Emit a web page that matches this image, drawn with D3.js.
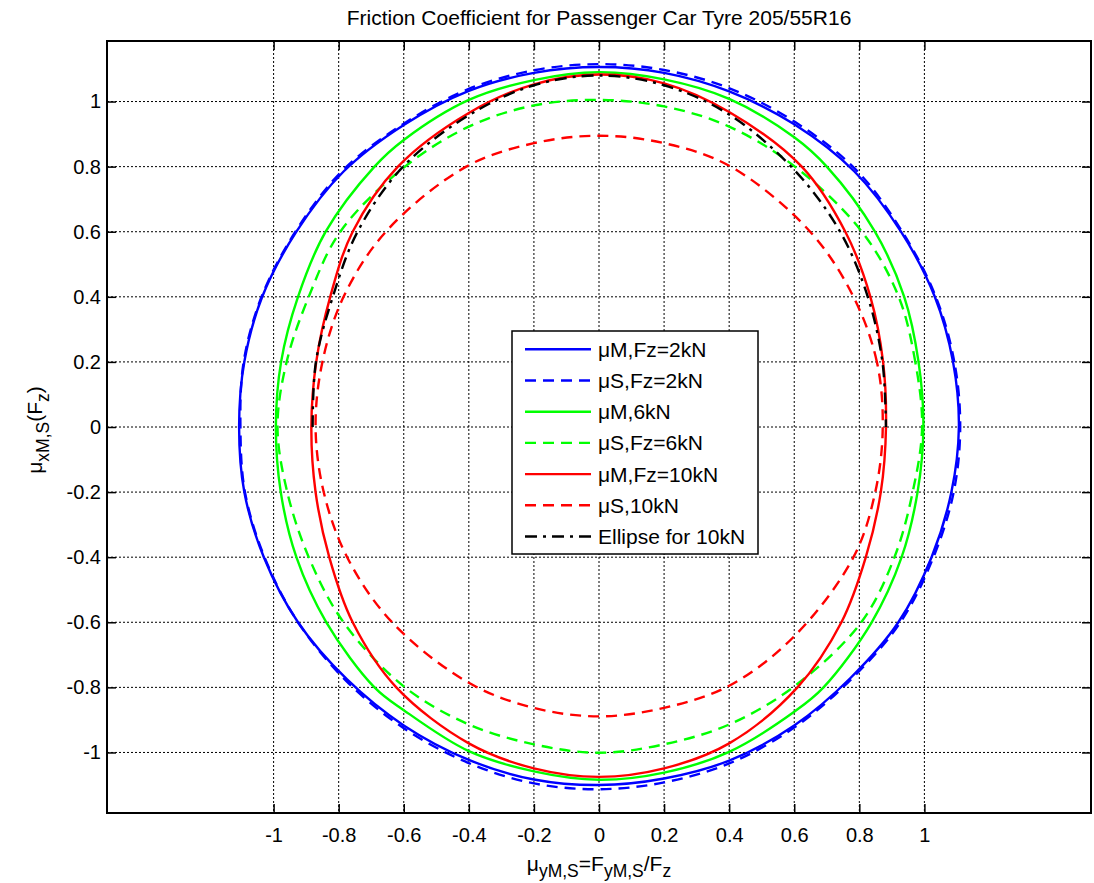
<!DOCTYPE html>
<html>
<head>
<meta charset="utf-8">
<script src="https://cdn.jsdelivr.net/npm/d3@7.9.0/dist/d3.min.js"></script>
<style>
  html, body { margin: 0; padding: 0; background: #fff; }
  svg { display: block; font-family: "Liberation Sans", Arial, Helvetica, sans-serif; }
</style>
</head>
<body>
<svg id="chart" width="1094" height="883"></svg>
<script>
// tick values and their labels
const xTicks = [-1, -0.8, -0.6, -0.4, -0.2, 0, 0.2, 0.4, 0.6, 0.8, 1];
const yTicks = [-1, -0.8, -0.6, -0.4, -0.2, 0, 0.2, 0.4, 0.6, 0.8, 1];
const tickLabels = ['-1', '-0.8', '-0.6', '-0.4', '-0.2', '0', '0.2', '0.4', '0.6', '0.8', '1'];

// friction curves, [muY, muX]
const muM2kN = [
  [1.106, 0], [1.088, 0.2], [1.032, 0.4], [0.928, 0.6], [0.785, 0.785], [0.6, 0.93], [0.4, 1.031], [0.2, 1.088],
  [0, 1.106], [-0.2, 1.088], [-0.4, 1.033], [-0.6, 0.928], [-0.785, 0.785], [-0.93, 0.6], [-1.035, 0.4], [-1.09, 0.2],
  [-1.106, 0], [-1.09, -0.2], [-1.03, -0.4], [-0.925, -0.6], [-0.775, -0.775], [-0.6, -0.917], [-0.4, -1.023], [-0.2, -1.083],
  [0, -1.1], [0.2, -1.08], [0.4, -1.025], [0.6, -0.917], [0.772, -0.772], [0.92, -0.6], [1.022, -0.4], [1.083, -0.2]
];
const muS2kN = [
  [1.11, 0], [1.092, 0.2], [1.035, 0.4], [0.932, 0.6], [0.79, 0.79], [0.604, 0.936], [0.403, 1.04], [0.2, 1.097],
  [0, 1.115], [-0.2, 1.096], [-0.402, 1.038], [-0.6, 0.932], [-0.788, 0.788], [-0.933, 0.6], [-1.037, 0.4], [-1.092, 0.2],
  [-1.102, 0], [-1.088, -0.2], [-1.028, -0.4], [-0.925, -0.6], [-0.777, -0.78], [-0.602, -0.924], [-0.402, -1.032], [-0.2, -1.095],
  [0, -1.113], [0.2, -1.092], [0.402, -1.033], [0.602, -0.922], [0.775, -0.775], [0.925, -0.602], [1.027, -0.402], [1.09, -0.2]
];
const muM6kN = [
  [0.997, 0], [0.982, 0.2], [0.938, 0.4], [0.848, 0.6], [0.7, 0.8], [0.6, 0.89], [0.4, 1.008], [0.2, 1.068],
  [0, 1.09], [-0.2, 1.066], [-0.4, 1.005], [-0.6, 0.882], [-0.69, 0.8], [-0.84, 0.6], [-0.925, 0.4], [-0.977, 0.2],
  [-0.993, 0], [-0.978, -0.2], [-0.93, -0.4], [-0.838, -0.6], [-0.69, -0.8], [-0.6, -0.87], [-0.4, -0.996], [-0.2, -1.058],
  [0, -1.084], [0.2, -1.062], [0.4, -0.998], [0.6, -0.875], [0.69, -0.8], [0.838, -0.6], [0.93, -0.4], [0.979, -0.2]
];
const muS6kN = [
  [0.993, 0], [0.972, 0.2], [0.921, 0.4], [0.808, 0.6], [0.602, 0.8], [0.4, 0.923], [0.2, 0.985],
  [0, 1.005], [-0.2, 0.988], [-0.4, 0.923], [-0.6, 0.797], [-0.795, 0.6], [-0.892, 0.4], [-0.96, 0.2],
  [-0.988, 0], [-0.958, -0.2], [-0.892, -0.4], [-0.785, -0.6], [-0.6, -0.797], [-0.4, -0.914], [-0.2, -0.975],
  [0, -1.001], [0.2, -0.975], [0.4, -0.914], [0.6, -0.797], [0.806, -0.6], [0.908, -0.4], [0.964, -0.2]
];
const muM10kN = [
  [0.882, 0], [0.873, 0.2], [0.834, 0.4], [0.757, 0.6], [0.623, 0.8], [0.4, 0.968], [0.2, 1.056],
  [0, 1.083], [-0.2, 1.053], [-0.4, 0.965], [-0.618, 0.8], [-0.757, 0.6], [-0.826, 0.4], [-0.869, 0.2],
  [-0.884, 0], [-0.871, -0.2], [-0.829, -0.4], [-0.757, -0.6], [-0.623, -0.8], [-0.4, -0.972], [-0.2, -1.049],
  [0, -1.075], [0.2, -1.049], [0.4, -0.972], [0.61, -0.8], [0.745, -0.6], [0.82, -0.4], [0.866, -0.2]
];
const muS10kN = [
  [0.872, 0], [0.854, 0.2], [0.782, 0.4], [0.649, 0.6], [0.405, 0.8], [0.2, 0.872],
  [0, 0.895], [-0.2, 0.872], [-0.408, 0.8], [-0.655, 0.6], [-0.785, 0.4], [-0.85, 0.2],
  [-0.871, 0], [-0.846, -0.2], [-0.774, -0.4], [-0.636, -0.6], [-0.4, -0.786], [-0.2, -0.863],
  [0, -0.889], [0.2, -0.863], [0.4, -0.795], [0.6, -0.643], [0.782, -0.4], [0.849, -0.2]
];
const ellipse10kN = [
  [-0.88, 0], [-0.87, 0.2], [-0.818, 0.4], [-0.742, 0.6], [-0.602, 0.8], [-0.4, 0.958], [-0.2, 1.05],
  [0, 1.08], [0.2, 1.05], [0.4, 0.96], [0.6, 0.79], [0.741, 0.6], [0.826, 0.4], [0.871, 0.2], [0.882, 0]
];

const seriesNames = ['μM,Fz=2kN', 'μS,Fz=2kN', 'μM,6kN', 'μS,Fz=6kN', 'μM,Fz=10kN', 'μS,10kN', 'Ellipse for 10kN'];
const seriesData = [muM2kN, muS2kN, muM6kN, muS6kN, muM10kN, muS10kN, ellipse10kN];

const colors = ['#0000ff', '#0000ff', '#00ff00', '#00ff00', '#ff0000', '#ff0000', '#000000'];
const dashes = [null, '11,7', null, '11,7', null, '11,7', '12,6,3,6'];
const closed = [true, true, true, true, true, true, false];

const svg = d3.select('#chart');
const margin = { top: 41, left: 107 };
const W = 984, H = 772;
const g = svg.append('g').attr('transform', `translate(${margin.left},${margin.top})`);

const x = d3.scaleLinear().domain([-1.512, 1.512]).range([0, W]);
const y = d3.scaleLinear().domain([-1.186, 1.186]).range([H, 0]);
const fmt = d => tickLabels[xTicks.indexOf(d)];

// grid
g.append('g').selectAll('line').data(xTicks).join('line')
  .attr('x1', d => x(d)).attr('x2', d => x(d)).attr('y1', 0).attr('y2', H)
  .attr('stroke', '#000').attr('stroke-width', 1).attr('stroke-dasharray', '2,2');
g.append('g').selectAll('line').data(yTicks).join('line')
  .attr('y1', d => y(d)).attr('y2', d => y(d)).attr('x1', 0).attr('x2', W)
  .attr('stroke', '#000').attr('stroke-width', 1).attr('stroke-dasharray', '2,2');

// axes, ticks inward on all four sides
const styleAxis = sel => {
  sel.select('.domain').remove();
  sel.selectAll('line').attr('stroke', '#000').attr('stroke-width', 1.5);
  sel.selectAll('text').attr('fill', '#000').style('font-size', '20px');
};
g.append('g').attr('transform', `translate(0,${H})`)
  .call(d3.axisBottom(x).tickValues(xTicks).tickFormat(fmt).tickSizeInner(-9).tickSizeOuter(0).tickPadding(15))
  .call(styleAxis);
g.append('g')
  .call(d3.axisLeft(y).tickValues(yTicks).tickFormat(fmt).tickSizeInner(-9).tickSizeOuter(0).tickPadding(6))
  .call(styleAxis);
g.append('g')
  .call(d3.axisTop(x).tickValues(xTicks).tickFormat('').tickSizeInner(-9).tickSizeOuter(0))
  .call(styleAxis);
g.append('g').attr('transform', `translate(${W},0)`)
  .call(d3.axisRight(y).tickValues(yTicks).tickFormat('').tickSizeInner(-9).tickSizeOuter(0))
  .call(styleAxis);

// curves
const lineClosed = d3.line().x(d => x(d[0])).y(d => y(d[1])).curve(d3.curveCatmullRomClosed.alpha(0.5));
const lineOpen = d3.line().x(d => x(d[0])).y(d => y(d[1])).curve(d3.curveCatmullRom.alpha(0.5));
g.append('g').selectAll('path').data(seriesData).join('path')
  .attr('d', (d, i) => (closed[i] ? lineClosed : lineOpen)(d))
  .attr('fill', 'none')
  .attr('stroke', (_, i) => colors[i])
  .attr('stroke-width', 2.4)
  .attr('stroke-dasharray', (_, i) => dashes[i]);

// box
g.append('rect').attr('width', W).attr('height', H)
  .attr('fill', 'none').attr('stroke', '#000').attr('stroke-width', 2);

// legend
const lg = svg.append('g').attr('transform', 'translate(512,331)');
lg.append('rect').attr('width', 246).attr('height', 223)
  .attr('fill', '#fff').attr('stroke', '#000').attr('stroke-width', 1.5);
const rows = lg.selectAll('.row').data(seriesNames).join('g')
  .attr('class', 'row')
  .attr('transform', (_, i) => `translate(0,${18.3 + i * 31.2})`);
rows.append('line').attr('x1', 13).attr('x2', 79)
  .attr('stroke', (_, i) => colors[i]).attr('stroke-width', 2.4)
  .attr('stroke-dasharray', (_, i) => dashes[i]);
rows.append('text').attr('x', 86).attr('dy', '0.36em')
  .style('font-size', '21px').text(d => d);

// title and axis labels
svg.append('text').attr('x', 599).attr('y', 25).attr('text-anchor', 'middle')
  .style('font-size', '21px').text('Friction Coefficient for Passenger Car Tyre 205/55R16');

const xl = svg.append('text').attr('x', 599).attr('y', 871).attr('text-anchor', 'middle').style('font-size', '21px');
xl.append('tspan').text('μ');
xl.append('tspan').attr('dy', 6).style('font-size', '17.5px').text('yM,S');
xl.append('tspan').attr('dy', -6).text('=F');
xl.append('tspan').attr('dy', 6).style('font-size', '17.5px').text('yM,S');
xl.append('tspan').attr('dy', -6).text('/F');
xl.append('tspan').attr('dy', 6).style('font-size', '17.5px').text('z');

const yl = svg.append('text').attr('transform', 'translate(42,430) rotate(-90)')
  .attr('text-anchor', 'middle').style('font-size', '21px');
yl.append('tspan').text('μ');
yl.append('tspan').attr('dy', 7).style('font-size', '17.5px').text('xM,S');
yl.append('tspan').attr('dy', -7).text('(F');
yl.append('tspan').attr('dy', 7).style('font-size', '17.5px').text('z');
yl.append('tspan').attr('dy', -7).text(')');
</script>
</body>
</html>
